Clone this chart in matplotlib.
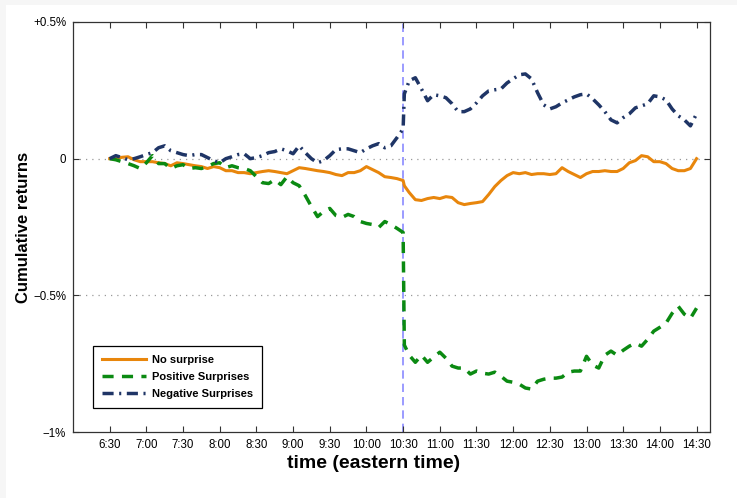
import numpy as np
import matplotlib
matplotlib.use('Agg')
import matplotlib.pyplot as plt
from matplotlib.patches import Rectangle

plt.rcParams['font.family'] = ['Liberation Sans', 'DejaVu Sans']

# minutes since midnight: 5-min grid from 6:30 to 14:30, plus 10:31 right after the announcement
minutes = np.sort(np.r_[np.arange(390, 871, 5), 631])

# cumulative returns in percent
no_surprise = [0.000, 0.000, 0.005, 0.007, -0.004, -0.011, -0.011, -0.011, -0.015, -0.018,
               -0.026, -0.015, -0.018, -0.022, -0.026, -0.029, -0.036, -0.029, -0.033, -0.044,
               -0.044, -0.051, -0.051, -0.055, -0.051, -0.047, -0.044, -0.047, -0.051, -0.055,
               -0.044, -0.033, -0.036, -0.040, -0.044, -0.047, -0.051, -0.058, -0.062, -0.051,
               -0.051, -0.044, -0.029, -0.040, -0.051, -0.066, -0.069, -0.073, -0.080, -0.099,
               -0.124, -0.150, -0.153, -0.146, -0.142, -0.146, -0.139, -0.142, -0.161, -0.168,
               -0.164, -0.161, -0.157, -0.131, -0.102, -0.080, -0.062, -0.051, -0.055, -0.051,
               -0.058, -0.055, -0.055, -0.058, -0.055, -0.033, -0.047, -0.058, -0.069, -0.055,
               -0.047, -0.047, -0.044, -0.047, -0.047, -0.036, -0.015, -0.007, 0.011, 0.007,
               -0.011, -0.011, -0.018, -0.036, -0.044, -0.044, -0.036, 0.000]

positive = [0.000, -0.004, -0.011, -0.018, -0.026, -0.036, -0.015, 0.011, -0.018, -0.018,
            -0.036, -0.026, -0.022, -0.036, -0.033, -0.036, -0.029, -0.018, -0.015, -0.033,
            -0.026, -0.033, -0.036, -0.044, -0.066, -0.088, -0.091, -0.077, -0.095, -0.066,
            -0.088, -0.099, -0.135, -0.175, -0.212, -0.193, -0.182, -0.208, -0.215, -0.204,
            -0.212, -0.230, -0.237, -0.241, -0.252, -0.230, -0.241, -0.255, -0.270, -0.682,
            -0.719, -0.745, -0.719, -0.745, -0.726, -0.708, -0.730, -0.759, -0.766, -0.766,
            -0.788, -0.777, -0.785, -0.788, -0.781, -0.796, -0.814, -0.818, -0.825, -0.839,
            -0.843, -0.814, -0.807, -0.803, -0.803, -0.799, -0.781, -0.777, -0.777, -0.723,
            -0.755, -0.766, -0.719, -0.704, -0.719, -0.701, -0.686, -0.675, -0.686, -0.661,
            -0.631, -0.617, -0.602, -0.566, -0.540, -0.569, -0.584, -0.547]

negative = [0.000, 0.011, 0.004, -0.004, 0.000, 0.007, 0.015, 0.022, 0.040, 0.047,
            0.029, 0.022, 0.015, 0.011, 0.015, 0.015, 0.004, -0.007, -0.015, 0.000,
            0.007, 0.015, 0.018, 0.000, 0.004, 0.011, 0.022, 0.026, 0.036, 0.029,
            0.018, 0.047, 0.022, 0.000, -0.015, -0.007, 0.011, 0.033, 0.036, 0.036,
            0.029, 0.022, 0.036, 0.047, 0.055, 0.040, 0.047, 0.077, 0.109, 0.237,
            0.285, 0.296, 0.255, 0.212, 0.234, 0.230, 0.223, 0.201, 0.172, 0.172,
            0.182, 0.204, 0.230, 0.248, 0.252, 0.255, 0.277, 0.292, 0.307, 0.310,
            0.292, 0.241, 0.197, 0.182, 0.190, 0.204, 0.215, 0.226, 0.234, 0.237,
            0.219, 0.197, 0.172, 0.142, 0.131, 0.150, 0.164, 0.186, 0.193, 0.201,
            0.230, 0.226, 0.215, 0.182, 0.157, 0.142, 0.120, 0.164]

tick_minutes = list(range(390, 871, 30))
tick_labels = ['%d:%02d' % (m // 60, m % 60) for m in tick_minutes]
ytick_vals = [-1, -0.5, 0, 0.5]
ytick_labels = ['\u22121%', '\u22120.5%', '0', '+0.5%']

fig = plt.figure(figsize=(7.37, 4.98), dpi=100, facecolor='#f6f6f6')
fig.patches.append(Rectangle((6 / 737, 0), 1, 1 - 5 / 498, transform=fig.transFigure,
                             facecolor='white', edgecolor='none', zorder=-10))
ax = fig.add_axes([73 / 737, 66 / 498, 637 / 737, 410 / 498])

ax.axvline(630, color='#8a8aff', lw=1.2, ls=(0, (5, 3)), zorder=1)
for yv in [0, -0.5]:
    ax.axhline(yv, color='#999999', lw=0.9, ls=(0, (1, 4)), zorder=0)

ax.plot(minutes, no_surprise, color='#e8860c', lw=2.2, label='No surprise', zorder=3)
ax.plot(minutes, positive, color='#0b8a12', lw=2.5, ls=(0, (3.2, 2.4)),
        label='Positive Surprises', zorder=3)
ax.plot(minutes, negative, color='#1f3566', lw=2.5, ls=(0, (3.2, 1.6, 0.6, 1.6)),
        label='Negative Surprises', zorder=3)

ax.set_xlim(360, 881)
ax.set_ylim(-1, 0.5)
ax.set_xticks(tick_minutes)
ax.set_xticklabels(tick_labels)
ax.set_yticks(ytick_vals)
ax.set_yticklabels(ytick_labels)
ax.tick_params(direction='in', top=True, right=True, length=4, width=0.8,
               labelsize=8.3, color='#333333', pad=5)
for s in ax.spines.values():
    s.set_color('#333333')
    s.set_linewidth(0.9)

ax.set_xlabel('time (eastern time)', fontsize=14, fontweight='bold')
ax.set_ylabel('Cumulative returns', fontsize=12, fontweight='bold')
ax.xaxis.set_label_coords(0.472, -0.055)
ax.yaxis.set_label_coords(-0.066, 0.5)

leg = ax.legend(loc='lower left', bbox_to_anchor=(0.031, 0.058), fancybox=False,
                edgecolor='black', framealpha=1, prop={'weight': 'bold', 'size': 8},
                handlelength=4.0, borderpad=0.8, labelspacing=0.65, handletextpad=0.5,
                borderaxespad=0)
leg.get_frame().set_linewidth(0.9)

fig.savefig('out.png', dpi=100, facecolor=fig.get_facecolor())
